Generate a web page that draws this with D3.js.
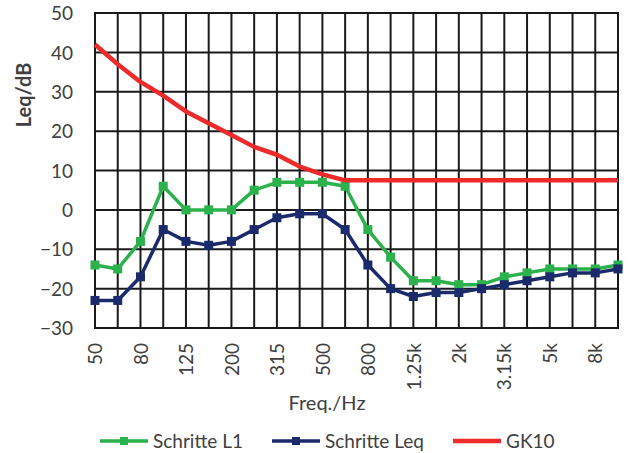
<!DOCTYPE html>
<html>
<head>
<meta charset="utf-8">
<script src="https://cdn.jsdelivr.net/npm/d3@7"></script>
<style>
  body { margin: 0; background: #fff; }
  text { font-family: Lato, "Open Sans", sans-serif; fill: #404040; }
</style>
</head>
<body>
<svg></svg>
<script>
var width = 629, height = 453;

// terzband centre frequencies
var freqs = ["50", "63", "80", "100", "125", "160", "200", "250", "315", "400", "500", "630",
    "800", "1k", "1.25k", "1.6k", "2k", "2.5k", "3.15k", "4k", "5k", "6.3k", "8k", "10k"];
var tickLabels = ["50", "80", "125", "200", "315", "500", "800", "1.25k", "2k", "3.15k", "5k", "8k"];
var yTicks = [-30, -20, -10, 0, 10, 20, 30, 40, 50];

var schritteL1 = [-14, -15, -8, 6, 0, 0, 0, 5, 7, 7, 7, 6,
    -5, -12, -18, -18, -19, -19, -17, -16, -15, -15, -15, -14];
var schritteLeq = [-23, -23, -17, -5, -8, -9, -8, -5, -2, -1, -1, -5,
    -14, -20, -22, -21, -21, -20, -19, -18, -17, -16, -16, -15];
var gk10 = [42, 37, 32.5, 29, 25, 22, 19, 16, 14, 11, 9, 7.5,
    7.5, 7.5, 7.5, 7.5, 7.5, 7.5, 7.5, 7.5, 7.5, 7.5, 7.5, 7.5];

var series = [
    { name: "Schritte L1", values: schritteL1, color: "#2bb24c", marker: true },
    { name: "Schritte Leq", values: schritteLeq, color: "#1b2a6b", marker: true },
    { name: "GK10", values: gk10, color: "#ee2a2a", marker: false }
];

var margin = { left: 95, right: 11, top: 13, bottom: 125 };

var svg = d3.select("svg")
    .attr("width", width)
    .attr("height", height);

var x = d3.scalePoint()
    .domain(freqs)
    .range([margin.left, width - margin.right]);

var y = d3.scaleLinear()
    .domain([-30, 50])
    .range([height - margin.bottom, margin.top]);

// grid
var grid = svg.append("g");
grid.selectAll("line.v")
    .data(freqs)
    .enter().append("line")
    .attr("x1", d => x(d)).attr("x2", d => x(d))
    .attr("y1", y(50)).attr("y2", y(-30))
    .attr("stroke", "#1a1a1a").attr("stroke-width", 2);
grid.selectAll("line.h")
    .data(yTicks)
    .enter().append("line")
    .attr("x1", x("50") - 1).attr("x2", x("10k") + 1)
    .attr("y1", d => y(d)).attr("y2", d => y(d))
    .attr("stroke", "#1a1a1a").attr("stroke-width", 2);

// y axis labels
var yAxis = svg.append("g")
    .attr("transform", "translate(" + (margin.left - 22) + ",0)")
    .call(d3.axisLeft(y).tickValues(yTicks).tickSize(0).tickPadding(0));
yAxis.select(".domain").remove();
yAxis.selectAll("text")
    .style("font-size", "19px")
    .attr("dy", "0.35em");

// x axis labels
var xAxis = svg.append("g")
    .attr("transform", "translate(0," + (height - margin.bottom) + ")")
    .call(d3.axisBottom(x).tickValues(tickLabels).tickSize(0).tickPadding(0));
xAxis.select(".domain").remove();
xAxis.selectAll("text")
    .style("font-size", "19px")
    .attr("text-anchor", "end")
    .attr("transform", "translate(0,15) rotate(-90)")
    .attr("x", 0).attr("y", 0)
    .attr("dy", "0.35em");

// axis titles
svg.append("text")
    .attr("transform", "translate(31,95) rotate(-90)")
    .attr("text-anchor", "middle")
    .style("font-size", "20px")
    .style("font-weight", "bold")
    .text("Leq/dB");

svg.append("text")
    .attr("x", 327).attr("y", 410)
    .attr("text-anchor", "middle")
    .style("font-size", "20px")
    .text("Freq./Hz");

// lines
var line = d3.line()
    .x((d, i) => x(freqs[i]))
    .y(d => y(d));

var plot = svg.append("g");
series.forEach(function (s) {
    plot.append("path")
        .datum(s.values)
        .attr("fill", "none")
        .attr("stroke", s.color)
        .attr("stroke-width", s.marker ? 3.5 : 4.5)
        .attr("stroke-linejoin", "round")
        .attr("d", line);
    if (s.marker) {
        plot.selectAll(null)
            .data(s.values)
            .enter().append("rect")
            .attr("x", (d, i) => x(freqs[i]) - 4.5)
            .attr("y", d => y(d) - 4.5)
            .attr("width", 9).attr("height", 9)
            .attr("fill", s.color);
    }
});

// legend
var legendX = [100, 272, 453];
var legend = svg.append("g");
series.forEach(function (s, i) {
    var g = legend.append("g").attr("transform", "translate(" + legendX[i] + ",441)");
    g.append("line")
        .attr("x1", 0).attr("x2", 48)
        .attr("stroke", s.color).attr("stroke-width", s.marker ? 3.5 : 4.5);
    if (s.marker) {
        g.append("rect").attr("x", 20).attr("y", -4).attr("width", 8).attr("height", 8).attr("fill", s.color);
    }
    g.append("text")
        .attr("x", 53).attr("dy", "0.35em")
        .style("font-size", "19px")
        .text(s.name);
});
</script>
</body>
</html>
